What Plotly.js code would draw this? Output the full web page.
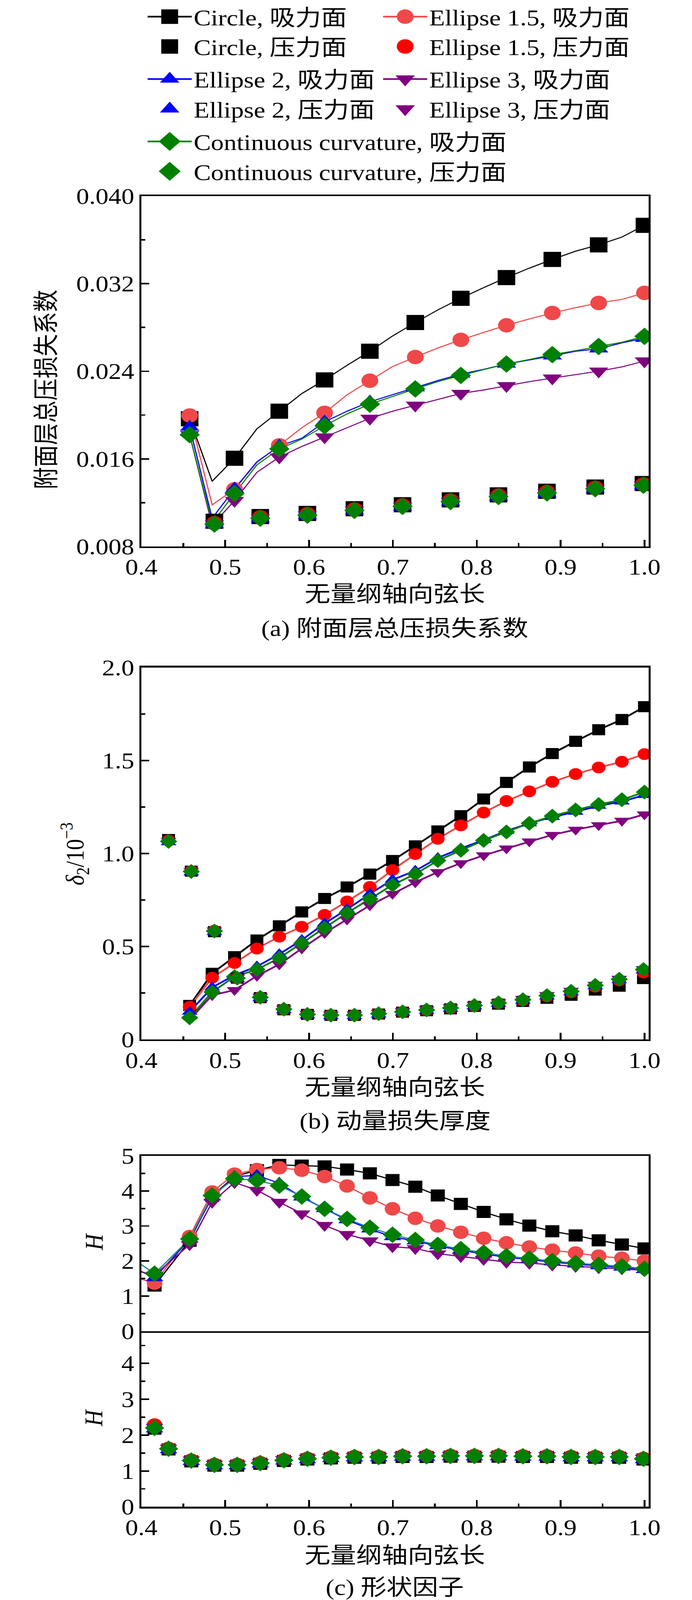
<!DOCTYPE html>
<html>
<head>
<meta charset="utf-8">
<script src="https://cdn.plot.ly/plotly-3.0.1.min.js"></script>
<style>
  html, body { margin: 0; padding: 0; background: #fff; }
  #frame { width: 1772px; overflow: hidden; }
  #chart { width: 1772px; height: 4759px; transform-origin: 0 0; }
</style>
</head>
<body>
<div id="frame"><div id="chart"></div></div>
<script>
// ---------------- data ----------------
// suction side stations (all panels), pressure side stations
var xSuc = [0.4576, 0.4844, 0.5111, 0.5378, 0.5645, 0.5913, 0.6185, 0.6453, 0.6725, 0.6995, 0.7267,
            0.7535, 0.7810, 0.8082, 0.8354, 0.8627, 0.8901, 0.9179, 0.9454, 0.9731, 1.0000];
var xPre = [0.4157, 0.4324, 0.4595, 0.4871, 0.5143, 0.5418, 0.5699, 0.5980, 0.6260, 0.6541, 0.6830,
            0.7115, 0.7402, 0.7687, 0.7972, 0.8259, 0.8550, 0.8837, 0.9125, 0.9413, 0.9699, 0.9988];
// (c) suction starts a bit further forward (first station is off the axis)
var xSucC = [0.389, 0.4157].concat(xSuc);
// (a) pressure side: only every other station is plotted
var xPreA = [0.4871, 0.5418, 0.5980, 0.6541, 0.7115, 0.7687, 0.8259, 0.8837, 0.9413, 0.9988];

// (a) total pressure loss coefficient, suction side (markers on every other station)
var aSucCircle = [0.01966, 0.01395, 0.01605, 0.01874, 0.02035, 0.02196, 0.02321, 0.02454, 0.02583, 0.02722, 0.02845,
                  0.02960, 0.03067, 0.03164, 0.03256, 0.03342, 0.03422, 0.03497, 0.03555, 0.03626, 0.03733];
var aSucE15 = [0.01996, 0.01180, 0.01322, 0.01567, 0.01723, 0.01884, 0.02020, 0.02185, 0.02314, 0.02443, 0.02530,
               0.02612, 0.02687, 0.02755, 0.02820, 0.02878, 0.02932, 0.02981, 0.03024, 0.03056, 0.03116];
var aSucE2 = [0.01890, 0.01057, 0.01326, 0.01573, 0.01717, 0.01788, 0.01938, 0.02035, 0.02121, 0.02185, 0.02250,
              0.02315, 0.02374, 0.02418, 0.02466, 0.02504, 0.02541, 0.02583, 0.02605, 0.02659, 0.02702];
var aSucE3 = [0.01820, 0.00993, 0.01219, 0.01477, 0.01616, 0.01713, 0.01799, 0.01885, 0.01970, 0.02035, 0.02089,
              0.02143, 0.02197, 0.02229, 0.02268, 0.02305, 0.02337, 0.02369, 0.02401, 0.02440, 0.02493];
var aSucCC = [0.01820, 0.01014, 0.01283, 0.01545, 0.01691, 0.01780, 0.01902, 0.02010, 0.02100, 0.02170, 0.02239,
              0.02305, 0.02362, 0.02415, 0.02466, 0.02508, 0.02552, 0.02588, 0.02626, 0.02665, 0.02719];
// (a) pressure side
var aPreCircle = [0.01030, 0.01073, 0.01101, 0.01144, 0.01181, 0.01225, 0.01271, 0.01304, 0.01342, 0.01374];
var aPreE15 = [0.01012, 0.01066, 0.01094, 0.01137, 0.01174, 0.01218, 0.01264, 0.01297, 0.01335, 0.01367];
var aPreE2 = [0.00999, 0.01053, 0.01081, 0.01124, 0.01161, 0.01205, 0.01251, 0.01284, 0.01322, 0.01354];
var aPreE3 = [0.01004, 0.01058, 0.01086, 0.01129, 0.01166, 0.01210, 0.01256, 0.01289, 0.01327, 0.01359];
var aPreCC = [0.01004, 0.01058, 0.01086, 0.01129, 0.01166, 0.01210, 0.01256, 0.01289, 0.01327, 0.01359];

// (b) momentum thickness, suction side
var bSucCircle = [0.183, 0.356, 0.445, 0.535, 0.611, 0.686, 0.758, 0.820, 0.889, 0.962, 1.041,
                  1.121, 1.203, 1.293, 1.382, 1.465, 1.537, 1.603, 1.665, 1.720, 1.789];
var bSucE15 = [0.176, 0.332, 0.411, 0.489, 0.553, 0.606, 0.670, 0.742, 0.820, 0.911, 0.997,
               1.079, 1.151, 1.220, 1.282, 1.334, 1.385, 1.427, 1.462, 1.493, 1.534];
var bSucE2 = [0.149, 0.280, 0.346, 0.393, 0.459, 0.535, 0.624, 0.700, 0.783, 0.859, 0.907,
              0.976, 1.027, 1.072, 1.121, 1.162, 1.196, 1.224, 1.256, 1.279, 1.314];
var bSucE3 = [0.108, 0.238, 0.266, 0.342, 0.404, 0.489, 0.572, 0.645, 0.721, 0.783, 0.845,
              0.900, 0.948, 0.990, 1.027, 1.065, 1.100, 1.128, 1.152, 1.176, 1.210];
var bSucCC = [0.117, 0.255, 0.338, 0.376, 0.438, 0.517, 0.600, 0.680, 0.755, 0.831, 0.889,
              0.962, 1.017, 1.070, 1.116, 1.162, 1.201, 1.234, 1.263, 1.289, 1.330];
// (b) pressure side (no value at the first station)
var bPreCircle = [null, 1.075, 0.905, 0.580, 0.330, 0.225, 0.160, 0.135, 0.130, 0.130, 0.137,
                  0.147, 0.155, 0.165, 0.178, 0.190, 0.205, 0.222, 0.238, 0.266, 0.287, 0.328];
var bPreE15 = [null, 1.070, 0.905, 0.585, 0.330, 0.226, 0.162, 0.134, 0.131, 0.131, 0.138,
               0.148, 0.158, 0.168, 0.181, 0.195, 0.211, 0.232, 0.254, 0.284, 0.318, 0.360];
var bPreE2 = [null, 1.060, 0.898, 0.578, 0.325, 0.222, 0.158, 0.130, 0.126, 0.126, 0.134,
              0.144, 0.154, 0.165, 0.178, 0.192, 0.209, 0.231, 0.254, 0.286, 0.319, 0.371];
var bPreE3 = [null, 1.068, 0.906, 0.586, 0.333, 0.230, 0.166, 0.138, 0.134, 0.134, 0.142,
              0.152, 0.162, 0.173, 0.186, 0.200, 0.217, 0.239, 0.262, 0.294, 0.327, 0.379];
var bPreCC = [null, 1.065, 0.903, 0.583, 0.330, 0.227, 0.163, 0.135, 0.131, 0.131, 0.139,
              0.149, 0.159, 0.170, 0.183, 0.197, 0.214, 0.236, 0.259, 0.291, 0.324, 0.376];

// (c) shape factor, suction side (first value is the off-axis station)
var cSucCircle = [null, 1.30, 2.58, 3.86, 4.41, 4.59, 4.74, 4.72, 4.70, 4.61, 4.50, 4.31,
                  4.12, 3.87, 3.63, 3.40, 3.19, 3.01, 2.85, 2.73, 2.59, 2.47, 2.36];
var cSucE15 = [1.56, 1.37, 2.70, 3.97, 4.48, 4.61, 4.66, 4.59, 4.41, 4.14, 3.80, 3.49,
               3.22, 3.00, 2.82, 2.65, 2.52, 2.40, 2.31, 2.23, 2.14, 2.08, 2.00];
var cSucE2 = [1.83, 1.52, 2.62, 3.82, 4.41, 4.44, 4.22, 3.82, 3.49, 3.17, 2.91, 2.69,
              2.57, 2.43, 2.31, 2.20, 2.11, 2.04, 1.97, 1.91, 1.86, 1.82, 1.75];
var cSucE3 = [1.75, 1.60, 2.47, 3.68, 4.24, 4.02, 3.68, 3.35, 3.02, 2.76, 2.58, 2.41,
              2.36, 2.21, 2.13, 2.05, 1.97, 1.94, 1.89, 1.85, 1.81, 1.78, 1.73];
var cSucCC = [2.08, 1.64, 2.63, 3.87, 4.35, 4.30, 4.15, 3.84, 3.49, 3.20, 2.95, 2.75,
              2.60, 2.46, 2.34, 2.24, 2.14, 2.07, 2.00, 1.94, 1.89, 1.85, 1.78];
// (c) pressure side
var cPreCircle = [2.18, 1.60, 1.27, 1.15, 1.15, 1.20, 1.28, 1.32, 1.35, 1.37, 1.37,
                  1.39, 1.39, 1.40, 1.40, 1.40, 1.39, 1.39, 1.37, 1.37, 1.37, 1.32];
var cPreE15 = [2.28, 1.63, 1.30, 1.18, 1.18, 1.23, 1.31, 1.35, 1.38, 1.40, 1.40,
               1.42, 1.42, 1.43, 1.43, 1.43, 1.42, 1.42, 1.40, 1.40, 1.40, 1.35];
var cPreE2 = [2.17, 1.59, 1.26, 1.14, 1.14, 1.19, 1.27, 1.31, 1.34, 1.36, 1.36,
              1.38, 1.38, 1.39, 1.39, 1.39, 1.38, 1.38, 1.36, 1.36, 1.36, 1.31];
var cPreE3 = [2.22, 1.64, 1.31, 1.19, 1.19, 1.24, 1.32, 1.36, 1.39, 1.41, 1.41,
              1.43, 1.43, 1.44, 1.44, 1.44, 1.43, 1.43, 1.41, 1.41, 1.41, 1.36];
var cPreCC = [2.20, 1.62, 1.29, 1.17, 1.17, 1.22, 1.30, 1.34, 1.37, 1.39, 1.39,
              1.41, 1.41, 1.42, 1.42, 1.42, 1.41, 1.41, 1.39, 1.39, 1.39, 1.34];

// ---------------- styles ----------------
var W = 1772, H = 4759;
var serif = "'Liberation Serif', 'Times New Roman', 'Noto Sans CJK SC', serif";
var FS = 66;

var series = [
  {key: 'Circle', label: 'Circle', sym: 'square', line: '#000000', suc: '#000000', pre: '#000000', lineC: '#000000',
   legend: 'legend', rank: 1, size: [45, 33, 36],
   a: [aSucCircle, aPreCircle], b: [bSucCircle, bPreCircle], c: [cSucCircle, cPreCircle]},
  {key: 'E15', label: 'Ellipse 1.5', sym: 'circle', line: '#f04848', suc: '#f04848', pre: '#ff0000', lineC: '#f04848',
   legend: 'legend2', rank: 1, size: [43, 35, 40],
   a: [aSucE15, aPreE15], b: [bSucE15, bPreE15], c: [cSucE15, cPreE15]},
  {key: 'E2', label: 'Ellipse 2', sym: 'triangle-up', line: '#0000ff', suc: '#0000ff', pre: '#0000ff', lineC: '#0000ff',
   legend: 'legend', rank: 3, size: [43, 35, 39],
   a: [aSucE2, aPreE2], b: [bSucE2, bPreE2], c: [cSucE2, cPreE2]},
  {key: 'E3', label: 'Ellipse 3', sym: 'triangle-down', line: '#800080', suc: '#800080', pre: '#800080', lineC: '#800080',
   legend: 'legend2', rank: 3, size: [43, 35, 39],
   a: [aSucE3, aPreE3], b: [bSucE3, bPreE3], c: [cSucE3, cPreE3]},
  {key: 'CC', label: 'Continuous curvature', sym: 'diamond', line: '#008000', suc: '#008000', pre: '#008000', lineC: '#1f8a8a',
   legend: 'legend', rank: 5, size: [40, 34, 38],
   a: [aSucCC, aPreCC], b: [bSucCC, bPreCC], c: [cSucCC, cPreCC]}
];

// ---------------- traces ----------------
var lines = [], marks = [];

series.forEach(function (s) {
  // (a): line through every station, markers on every other one
  lines.push({x: xSuc, y: s.a[0], xaxis: 'x', yaxis: 'y', mode: 'lines', showlegend: false,
              line: {color: s.line, width: 3}, hoverinfo: 'skip'});
  marks.push({x: xSuc, y: s.a[0].map(function (v, i) { return i % 2 === 0 ? v : null; }),
              xaxis: 'x', yaxis: 'y', mode: 'lines+markers', connectgaps: false,
              name: s.label + ', 吸力面', legend: s.legend, legendgroup: s.key, legendrank: s.rank,
              line: {color: s.line, width: 5},
              marker: {symbol: s.sym, size: s.size[0], color: s.suc}});
  // (b)
  lines.push({x: xSuc, y: s.b[0], xaxis: 'x2', yaxis: 'y2', mode: 'lines', showlegend: false,
              line: {color: s.line, width: 5}, hoverinfo: 'skip'});
  marks.push({x: xSuc, y: s.b[0], xaxis: 'x2', yaxis: 'y2', mode: 'markers', showlegend: false,
              marker: {symbol: s.sym, size: s.size[1], color: s.key === 'E15' ? '#ff0000' : s.suc}});
  // (c) top
  lines.push({x: xSucC, y: s.c[0], xaxis: 'x3', yaxis: 'y3', mode: 'lines', showlegend: false,
              line: {color: s.lineC, width: 3.5}, hoverinfo: 'skip'});
  marks.push({x: xSucC.slice(1), y: s.c[0].slice(1), xaxis: 'x3', yaxis: 'y3', mode: 'markers', showlegend: false,
              marker: {symbol: s.sym, size: s.size[2], color: s.suc}});
});

series.forEach(function (s) {
  marks.push({x: xPreA, y: s.a[1], xaxis: 'x', yaxis: 'y', mode: 'markers',
              name: s.label + ', 压力面', legend: s.legend, legendgroup: s.key, legendrank: s.rank + 1,
              marker: {symbol: s.sym, size: s.size[0], color: s.pre}});
  marks.push({x: xPre, y: s.b[1], xaxis: 'x2', yaxis: 'y2', mode: 'markers', showlegend: false,
              marker: {symbol: s.sym, size: s.size[1], color: s.pre}});
  marks.push({x: xPre, y: s.c[1], xaxis: 'x4', yaxis: 'y4', mode: 'markers', showlegend: false,
              marker: {symbol: s.sym, size: s.size[2], color: s.pre}});
});

// ---------------- layout ----------------
function ydom(top, bottom) { return [1 - bottom / H, 1 - top / H]; }
var xdom = [362 / W, 1661 / W];

var tickfont = {family: serif, size: FS, color: '#000'};
var minorTick = {ticks: 'inside', ticklen: 10, tickwidth: 4.5, tickcolor: '#000'};
function axisBase() {
  return {
    showline: true, linecolor: '#000', linewidth: 5, mirror: true,
    showgrid: false, zeroline: false, fixedrange: true,
    ticks: 'inside', ticklen: 20, tickwidth: 4.5, tickcolor: '#000',
    tickfont: tickfont
  };
}
function xAxis(anchor, labels) {
  return Object.assign(axisBase(), {
    domain: xdom, anchor: anchor, range: [0.4, 1.005], tick0: 0.4, dtick: 0.1, tickformat: '.1f',
    showticklabels: labels, ticks: labels ? 'inside' : '',
    minor: labels ? Object.assign({dtick: 0.05}, minorTick) : {ticks: ''}
  });
}
function yAxis(anchor, dom, extra) {
  return Object.assign(axisBase(), {domain: dom, anchor: anchor}, extra);
}
function minorY(d) { return Object.assign({dtick: d}, minorTick); }

function note(text, xpx, ypx, angle) {
  return {text: text, xref: 'paper', yref: 'paper', x: xpx / W, y: 1 - ypx / H,
          xanchor: 'center', yanchor: 'middle', showarrow: false, textangle: angle || 0,
          font: {family: serif, size: FS, color: '#000'}};
}

var legendBase = {
  xanchor: 'left', yanchor: 'top', orientation: 'v', bgcolor: 'rgba(0,0,0,0)', borderwidth: 0,
  font: {family: serif, size: FS, color: '#000'}, itemwidth: 113, tracegroupgap: 8, traceorder: 'grouped'
};

// bottom panel of (c): its top edge is drawn by the panel above
var xaxis4 = xAxis('y4', true);
xaxis4.mirror = false;

var layout = {
  width: W, height: H,
  margin: {l: 0, r: 0, t: 0, b: 0},
  paper_bgcolor: '#fff', plot_bgcolor: 'rgba(0,0,0,0)',
  font: {family: serif, size: FS, color: '#000'},
  showlegend: true,
  legend: Object.assign({}, legendBase, {x: 373 / W, y: 1 + 14 / H}),
  legend2: Object.assign({}, legendBase, {x: 976 / W, y: 1 + 14 / H}),
  xaxis: xAxis('y', true),
  yaxis: yAxis('x', ydom(571, 1616), {range: [0.008, 0.040], tick0: 0.008, dtick: 0.008, tickformat: '.3f', minor: minorY(0.004)}),
  xaxis2: xAxis('y2', true),
  yaxis2: yAxis('x2', ydom(1977, 3087), {range: [0, 2], tickmode: 'array', tickvals: [0, 0.5, 1, 1.5, 2],
           ticktext: ['0', '0.5', '1.0', '1.5', '2.0'],
           minor: Object.assign({tickmode: 'array', tickvals: [0.25, 0.75, 1.25, 1.75]}, minorTick)}),
  xaxis3: xAxis('y3', false),
  yaxis3: yAxis('x3', ydom(3434, 3957), {range: [0, 5], tick0: 0, dtick: 1, minor: minorY(0.5)}),
  xaxis4: xaxis4,
  yaxis4: yAxis('x4', ydom(3957, 4481), {range: [0, 4.9], tick0: 0, dtick: 1, minor: minorY(0.5)}),
  annotations: [
    note('无量纲轴向弦长', 1011, 1758),
    note('(a) 附面层总压损失系数', 1011, 1861),
    note('附面层总压损失系数', 119, 1148, -90),
    note('无量纲轴向弦长', 1011, 3230),
    note('(b) 动量损失厚度', 1011, 3331),
    note('<i>δ</i><sub>2</sub>/10<sup>−3</sup>', 192, 2534, -90),
    note('无量纲轴向弦长', 1011, 4626),
    note('(c) 形状因子', 1011, 4722),
    note('<i>H</i>', 240, 3690, -90),
    note('<i>H</i>', 240, 4215, -90)
  ]
};

// the browser window is shorter than the figure: draw it at full size and
// squeeze it vertically so the whole figure stays in view
var fit = Math.min(1, window.innerHeight / H);
document.getElementById('frame').style.height = Math.floor(H * fit) + 'px';
document.getElementById('chart').style.transform = 'scale(1,' + fit + ')';

Plotly.newPlot('chart', lines.concat(marks), layout, {displayModeBar: false, staticPlot: true}).then(function (gd) {
  // plotly caps legend symbols at 16px; the original legend uses the plot's marker size
  gd.querySelectorAll('g.legend path.scatterpts, g.legend2 path.scatterpts').forEach(function (p) {
    var t = p.getAttribute('transform') || '';
    p.setAttribute('transform', t + ' scale(2.7)');
  });
});
</script>
</body>
</html>
